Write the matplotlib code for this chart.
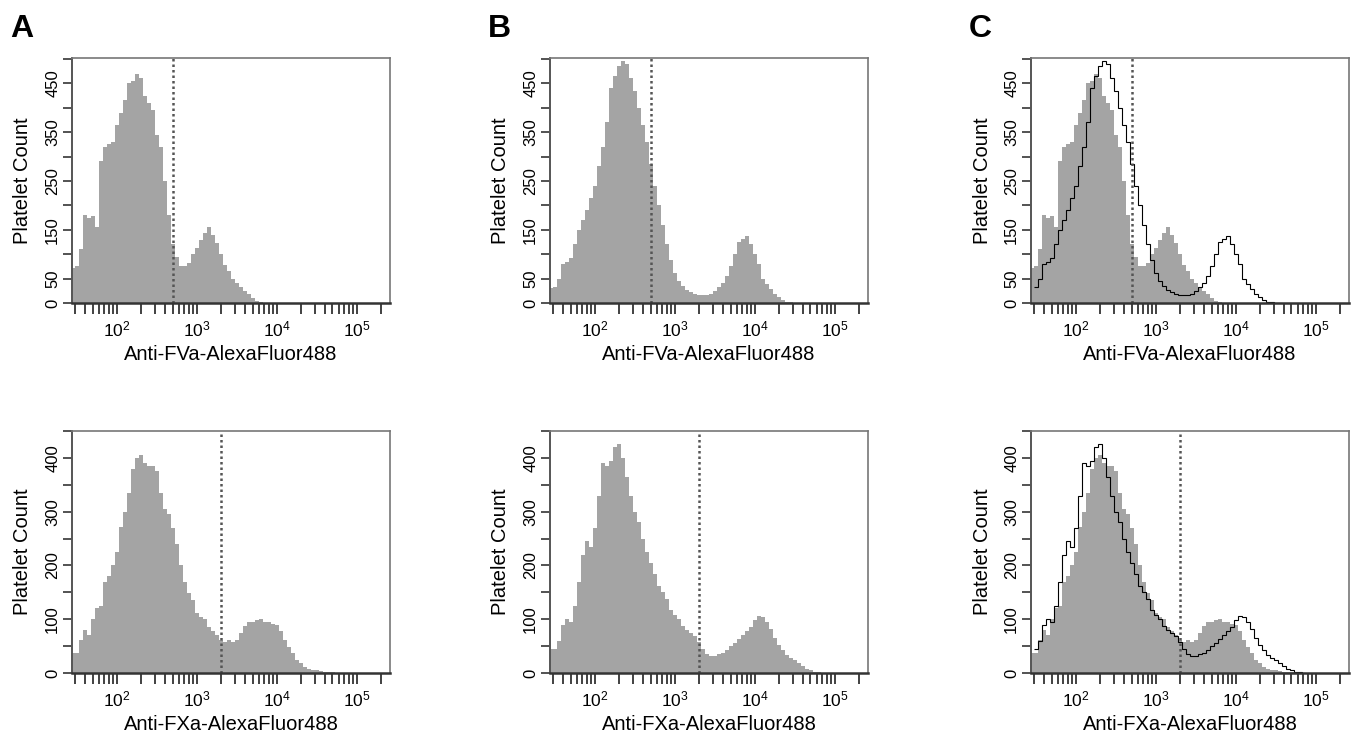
import numpy as np
import matplotlib
matplotlib.use('Agg')
import matplotlib.pyplot as plt
from matplotlib.ticker import FixedLocator, LogLocator, NullFormatter

plt.rcParams['font.family'] = ['Liberation Sans', 'DejaVu Sans']
plt.rcParams['mathtext.default'] = 'regular'

# histogram bins: centres in log10(fluorescence), 0.05 decade wide
log_bins = np.round(np.arange(1.45, 5.001, 0.05), 2)

# platelet counts per bin
fva_a = [72, 75, 110, 180, 175, 178, 155, 290, 320, 325, 330, 365, 390, 415, 450, 455,
         470, 460, 425, 410, 395, 345, 320, 250, 180, 120, 95, 76, 75, 82, 100, 112,
         130, 143, 155, 140, 122, 100, 78, 65, 50, 42, 32, 25, 18, 10, 5, 2, 1,
         0, 0, 0, 0, 0, 0, 0, 0, 0, 0, 0, 0, 0, 0, 0, 0, 0, 0, 0, 0, 0, 0, 0]
fva_b = [30, 32, 50, 80, 85, 92, 120, 150, 170, 190, 215, 240, 280, 320, 370, 440,
         465, 485, 495, 490, 462, 435, 400, 365, 330, 285, 240, 200, 160, 120, 88, 62,
         45, 35, 27, 22, 18, 16, 16, 17, 18, 25, 33, 42, 55, 75, 100, 125, 132, 138,
         120, 100, 80, 50, 38, 28, 18, 12, 7, 3, 2, 1,
         0, 0, 0, 0, 0, 0, 0, 0, 0, 0]
fxa_a = [37, 37, 62, 80, 70, 100, 120, 125, 170, 180, 200, 225, 272, 300, 335, 380,
         400, 405, 390, 385, 385, 375, 335, 305, 295, 270, 240, 200, 170, 148, 135, 112,
         104, 100, 85, 78, 70, 62, 58, 62, 58, 62, 75, 88, 95, 95, 98, 100, 95, 95,
         92, 90, 78, 62, 48, 37, 25, 18, 12, 8, 6, 5, 3, 2, 2, 1,
         0, 0, 0, 0, 0, 0]
fxa_b = [45, 45, 60, 90, 100, 95, 125, 170, 220, 245, 235, 270, 330, 390, 385, 395,
         420, 425, 400, 365, 330, 300, 280, 250, 225, 205, 185, 162, 150, 137, 118, 108,
         100, 88, 80, 75, 68, 58, 45, 36, 32, 32, 35, 38, 43, 50, 55, 63, 70, 78,
         86, 98, 106, 105, 95, 82, 65, 52, 43, 33, 28, 25, 18, 13, 8, 5, 2, 1,
         0, 0, 0, 0]

panel_letters = ['A', 'B', 'C']
x_labels = ['Anti-FVa-AlexaFluor488', 'Anti-FXa-AlexaFluor488']
gates = [500, 2000]
y_max = [502, 450]
y_ticks = [[0, 50, 100, 150, 200, 250, 300, 350, 400, 450, 500],
           [0, 50, 100, 150, 200, 250, 300, 350, 400, 450]]
y_ticklabels = [['0', '50', '', '150', '', '250', '', '350', '', '450', ''],
                ['0', '', '100', '', '200', '', '300', '', '400', '']]
x_ticks = [1e2, 1e3, 1e4, 1e5]
x_ticklabels = [r'$10^{2}$', r'$10^{3}$', r'$10^{4}$', r'$10^{5}$']

fills = [[fva_a, fva_b, fva_a], [fxa_a, fxa_b, fxa_a]]
lines = [[None, None, fva_b], [None, None, fxa_b]]

W, H = 1355, 741
col_left = [72, 550, 1031]
col_right = [390, 868, 1349]
row_top = [58, 431]
row_bot = [303, 673]

fill_grey = '#a4a4a4'
edges = 10 ** np.append(log_bins - 0.025, log_bins[-1] + 0.025)

fig = plt.figure(figsize=(W / 100, H / 100), dpi=100)

for r in range(2):
    for c in range(3):
        x0, x1 = col_left[c], col_right[c]
        y0, y1 = row_top[r], row_bot[r]
        ax = fig.add_axes([x0 / W, (H - y1) / H, (x1 - x0) / W, (y1 - y0) / H])

        ax.stairs(fills[r][c], edges, fill=True, color=fill_grey, lw=0)
        if lines[r][c] is not None:
            vals = np.array(lines[r][c])
            last = np.nonzero(vals)[0][-1] + 2
            ax.stairs(vals[1:last], edges[1:last + 1], baseline=None,
                      color='black', lw=0.8)
        ax.axvline(gates[r], color='#555555', lw=1.8, ls=(0, (1, 1.2)))

        ax.set_xscale('log')
        ax.set_xlim(27.5, 262144)
        ax.set_ylim(0, y_max[r])

        ax.xaxis.set_major_locator(FixedLocator(x_ticks))
        ax.set_xticklabels(x_ticklabels)
        ax.xaxis.set_minor_locator(LogLocator(base=10, subs=range(2, 10)))
        ax.xaxis.set_minor_formatter(NullFormatter())
        ax.tick_params(axis='x', which='both', direction='out', length=8,
                       width=1.3, color='#333333', pad=4, labelsize=12.5)

        ax.set_yticks(y_ticks[r])
        ax.set_yticklabels(y_ticklabels[r], rotation=90, va='center')
        ax.tick_params(axis='y', direction='out', length=6.5, width=1.3,
                       color='#444444', pad=2, labelsize=12)

        ax.spines['left'].set_color('#555555')
        ax.spines['left'].set_linewidth(1.4)
        ax.spines['bottom'].set_color('#333333')
        ax.spines['bottom'].set_linewidth(1.8)
        for s in ['top', 'right']:
            ax.spines[s].set_color('#777777')
            ax.spines[s].set_linewidth(1.2)

        ax.set_xlabel(x_labels[r], fontsize=14.5)
        ax.xaxis.label.set_va('center')
        ax.xaxis.set_label_coords(0.5, -52 / (y1 - y0))
        ax.set_ylabel('Platelet Count', fontsize=14.5)
        ax.yaxis.label.set_va('center')
        ax.yaxis.set_label_coords(-49 / (x1 - x0), 0.5)

for c in range(3):
    fig.text((col_left[c] - 62) / W, 1 - 37 / H, panel_letters[c],
             fontsize=23, fontweight='bold', va='baseline', ha='left')

fig.savefig('out.png', dpi=100)
